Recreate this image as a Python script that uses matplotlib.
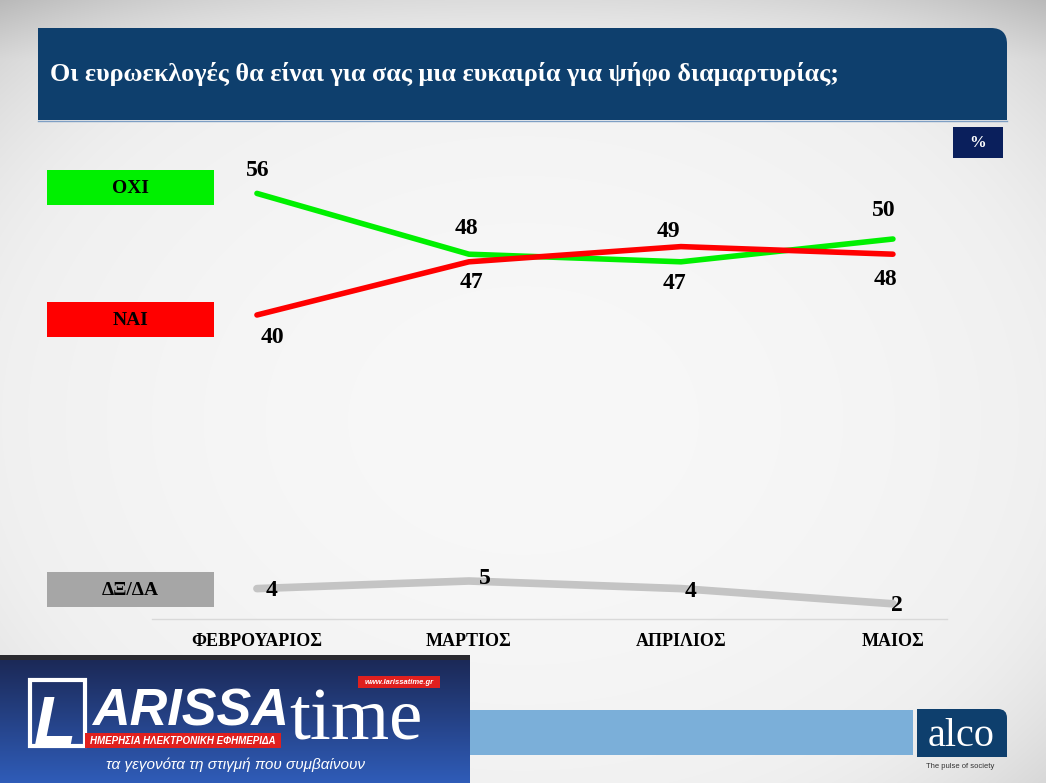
import numpy as np
import matplotlib
matplotlib.use("Agg")
import matplotlib.pyplot as plt
from matplotlib.patches import Rectangle, FancyBboxPatch

# ---------------- data ----------------
months = ["ΦΕΒΡΟΥΑΡΙΟΣ", "ΜΑΡΤΙΟΣ", "ΑΠΡΙΛΙΟΣ", "ΜΑΙΟΣ"]
oxi = [56, 48, 47, 50]
nai = [40, 47, 49, 48]
dkna = [4, 5, 4, 2]
series_names = ["ΟΧΙ", "ΝΑΙ", "ΔΞ/ΔΑ"]
title = "Οι ευρωεκλογές θα είναι για σας μια ευκαιρία για ψήφο διαμαρτυρίας;"

# ---------------- style ----------------
W, H = 1046, 783
SERIF = ["Liberation Serif", "DejaVu Serif"]
SANS = ["Liberation Sans", "DejaVu Sans"]
GREEN, RED, GRAY = "#00F000", "#FF0000", "#C4C4C4"
NAVY = "#0E3F6D"

fig = plt.figure(figsize=(W / 100, H / 100), dpi=100)

# background axes in pixel coordinates
bg = fig.add_axes([0, 0, 1, 1], zorder=-10)
bg.set_xlim(0, W)
bg.set_ylim(H, 0)
bg.axis("off")
yy, xx = np.mgrid[0:H, 0:W].astype(float)
r = np.sqrt(((xx - 523) / 523.0) ** 2 + ((yy - 420) / 400.0) ** 2)
grad = 0.972 - 0.03 * r ** 2 - 0.45 * np.clip(r - 0.95, 0, None) ** 2
grad -= 0.07 * np.clip((60 - yy) / 60.0, 0, 1)
grad = np.clip(grad, 0, 1)
rgb = np.dstack([grad, grad, grad])
bg.imshow(rgb, extent=(0, W, H, 0), aspect="auto", zorder=0, interpolation="bilinear")

# title banner (rounded top-right corner)
bg.add_patch(FancyBboxPatch((38, 28), 969, 92, boxstyle="round,pad=0,rounding_size=16",
                            fc=NAVY, ec="none", zorder=1))
bg.add_patch(Rectangle((38, 28), 40, 92, fc=NAVY, ec="none", zorder=1))
bg.add_patch(Rectangle((38, 80), 969, 40, fc=NAVY, ec="none", zorder=1))
bg.plot([38, 1007], [120.5, 120.5], color="#7E9FC4", lw=1, zorder=2)
bg.text(50, 74, title, color="white", fontsize=18.8, fontweight="bold", family=SERIF,
        va="center", ha="left", zorder=3)

# % box
bg.add_patch(Rectangle((953, 127), 50, 31, fc="#0A1F5C", ec="none", zorder=1))
bg.text(978, 143, "%", color="white", fontsize=12, fontweight="bold", family=SERIF,
        ha="center", va="center", zorder=3)

# legend boxes
leg_boxes = [(170, GREEN), (302, RED), (572, "#A6A6A6")]
for (ytop, col), name in zip(leg_boxes, series_names):
    bg.add_patch(Rectangle((47, ytop), 167, 35, fc=col, ec="none", zorder=1))
    bg.text(130.5, ytop + 18.5, name, color="black", fontsize=14, fontweight="bold",
            family=SERIF, ha="center", va="center", zorder=3)

# bottom light-blue bar
bg.add_patch(Rectangle((470, 710), 443, 45, fc="#7BAFD9", ec="none", zorder=1))

# alco box
bg.add_patch(FancyBboxPatch((917, 709), 90, 48, boxstyle="round,pad=0,rounding_size=9",
                            fc=NAVY, ec="none", zorder=1))
bg.add_patch(Rectangle((917, 709), 30, 48, fc=NAVY, ec="none", zorder=1))
bg.add_patch(Rectangle((917, 730), 90, 27, fc=NAVY, ec="none", zorder=1))
bg.text(961, 736, "alco", color="white", fontsize=29, family=SERIF, ha="center",
        va="center", zorder=3)
bg.text(960, 767, "The pulse of society", color="#333333", fontsize=5.5, family=SANS,
        ha="center", va="center", zorder=3)

# LARISSA time logo block
lg = np.linspace(0, 1, 126)[:, None]
c0 = np.array([0x1B, 0x28, 0x55]) / 255.0
c1 = np.array([0x2F, 0x5C, 0xB8]) / 255.0
logo_img = (c0 + (c1 - c0) * lg[..., None]) * np.ones((1, 10, 1))
bg.imshow(logo_img, extent=(0, 470, 783, 657), aspect="auto", zorder=1)
bg.add_patch(Rectangle((0, 655), 470, 5, fc="#2A2A30", ec="none", zorder=2))
# "L" outlined block
bg.add_patch(Rectangle((30, 680), 55, 66, fc="none", ec="white", lw=3, zorder=3))
bg.text(34, 744, "L", color="white", fontsize=50, fontweight="bold", style="italic",
        family=SANS, ha="left", va="baseline", zorder=4)
bg.text(92, 726, "ARISSA", color="white", fontsize=37.5, fontweight="bold", style="italic",
        family=SANS, ha="left", va="baseline", zorder=4)
bg.text(289, 740, "time", color="white", fontsize=54,
        family=SERIF, ha="left", va="baseline", zorder=4)
bg.add_patch(Rectangle((85, 733), 196, 15, fc="#E0201E", ec="none", zorder=5))
bg.text(183, 741, "ΗΜΕΡΗΣΙΑ ΗΛΕΚΤΡΟΝΙΚΗ ΕΦΗΜΕΡΙΔΑ", color="white", fontsize=7,
        fontweight="bold", style="italic", family=SANS, ha="center", va="center", zorder=6)
bg.add_patch(Rectangle((358, 676), 82, 12, fc="#E0201E", ec="none", zorder=5))
bg.text(399, 682, "www.larissatime.gr", color="white", fontsize=5.5, fontweight="bold",
        style="italic", family=SANS, ha="center", va="center", zorder=6)
bg.text(235, 765, "τα γεγονότα τη στιγμή που συμβαίνουν", color="white", fontsize=11,
        style="italic", family=SANS, ha="center", va="center", zorder=4)

# ---------------- chart ----------------
ax = fig.add_axes([152 / W, (H - 619) / H, 795 / W, 456 / H])
ax.patch.set_alpha(0)
x = np.arange(len(months))
ax.set_xlim(-0.495, 3.255)
ax.set_ylim(0, 60)
for s in ["top", "right", "left"]:
    ax.spines[s].set_visible(False)
ax.spines["bottom"].set_color("#D9D9D9")
ax.spines["bottom"].set_linewidth(1)
ax.set_yticks([])
ax.set_xticks(x)
ax.set_xticklabels(months, family=SERIF, fontweight="bold", fontsize=13)
ax.tick_params(axis="x", length=0, pad=10)

ax.plot(x, dkna, color=GRAY, lw=5.5, solid_capstyle="round", solid_joinstyle="round", zorder=2)
ax.plot(x, oxi, color=GREEN, lw=4, solid_capstyle="round", solid_joinstyle="round", zorder=3)
ax.plot(x, nai, color=RED, lw=4, solid_capstyle="round", solid_joinstyle="round", zorder=4)

# label offsets in pixels (dx, dy)
off_oxi = [(1, 23), (-3, 26), (-6, -22), (-9, 28)]
off_nai = [(15, -23), (3, -21), (-13, 15), (-8, -25)]
off_dk = [(15, -2), (16, 2), (10, -3), (4, -2)]
for vals, offs in [(oxi, off_oxi), (nai, off_nai), (dkna, off_dk)]:
    for xi, v, (dx, dy) in zip(x, vals, offs):
        ax.annotate(f"{v}", (xi, v), xytext=(dx, dy), textcoords="offset pixels",
                    ha="center", va="center", fontsize=17, fontweight="bold",
                    family=SERIF, color="black", zorder=6)

fig.savefig("out.png", dpi=100)
